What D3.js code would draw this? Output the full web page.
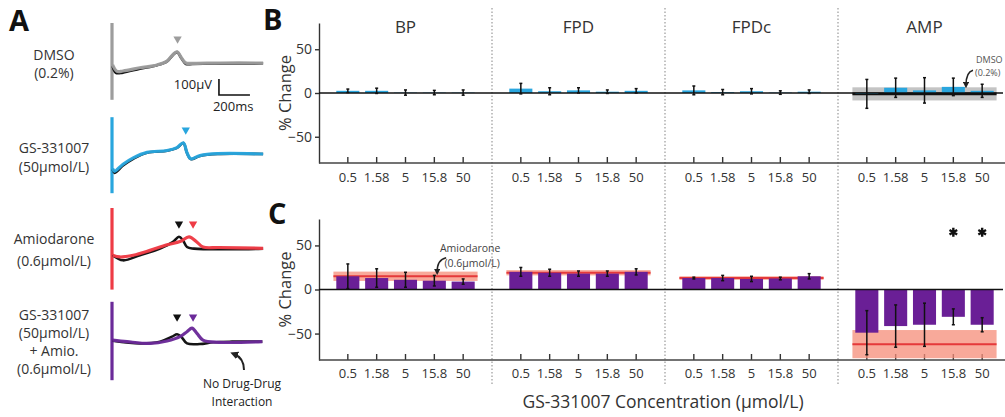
<!DOCTYPE html>
<html><head><meta charset="utf-8">
<script src="https://cdn.jsdelivr.net/npm/d3@7"></script>
<style>body{margin:0;background:#fff} text{font-family:"Open Sans",sans-serif}</style>
</head><body><svg id="c" width="1005" height="417"></svg>
<script>
// ---------- DATA ----------
const concentrations = ["0.5", "1.58", "5", "15.8", "50"];
const metrics = ["BP", "FPD", "FPDc", "AMP"];
const yTickValues = [50, 0, -50];

// Panel B: GS-331007 alone (% change)
const gsBP = [2.5, 2.5, 0.5, 0.5, 0.5];
const gsBPErr = [2, 3, 3, 2.5, 3];
const gsFPD = [5, 2, 3, 1.5, 2.5];
const gsFPDErr = [6, 4, 3, 2, 2.5];
const gsFPDc = [3, 1, 2, 0.5, 1.5];
const gsFPDcErr = [5, 3, 3, 2, 2];
const gsAMP = [-1, 6, 3, 7, 2.5];
const gsAMPErr = [16.5, 11, 14.5, 10, 7.5];
const dmsoAMP = [-1, 7.5]; // mean, sem

// Panel C: GS-331007 + amiodarone (% change)
const combBP = [15, 13, 11, 10, 9];
const combBPErr = [14, 10.5, 8.5, 6, 3];
const combFPD = [20, 19, 18, 18, 20];
const combFPDErr = [5, 4, 3, 3, 3.5];
const combFPDc = [13, 13, 12, 12.5, 15];
const combFPDcErr = [1, 3, 3, 1.5, 3];
const combAMP = [-49, -41.5, -40, -31, -40];
const combAMPErr = [25, 24, 24.5, 9, 8];
const significant = ["15.8", "50"];
// Amiodarone alone (mean, sem)
const amioBP = [15, 5.3];
const amioFPD = [19, 3];
const amioFPDc = [13, 2];
const amioAMP = [-62, 16];

// Panel A: field potential traces [time ms, µV]
const traceDMSOBlack = [[4,-20],[25,-62],[70,-60],[180,-36],[290,-14],[355,10],[395,52],[420,68],[450,26],[477,-6],[520,-6],[700,-3],[975,-2]];
const traceDMSO = [[4,-12],[32,-52],[71,-50],[180,-30],[290,-12],[355,12],[395,55],[420,70],[450,30],[477,0],[520,-2],[700,0],[975,0]];
const traceGSBlack = [[4,-95],[18,-118],[71,-72],[137,-30],[226,8],[355,20],[419,38],[460,68],[484,6],[508,-32],[567,-12],[680,0],[975,0]];
const traceGS = [[4,-90],[16,-108],[71,-64],[137,-24],[226,10],[355,22],[419,40],[460,70],[484,8],[508,-30],[567,-10],[680,2],[975,0]];
const traceAmioBlack = [[4,-45],[71,-77],[180,-45],[310,-4],[394,38],[432,70],[458,48],[484,6],[529,-4],[774,-8],[975,-4]];
const traceAmio = [[4,-45],[51,-56],[137,-45],[245,-15],[355,20],[439,40],[497,70],[547,38],[587,6],[690,3],[975,-2]];
const traceCombBlack = [[4,2],[180,-15],[310,-4],[387,27],[420,42],[447,27],[484,-15],[567,-19],[653,-8],[774,-4],[970,-4]];
const traceComb = [[4,6],[97,-4],[245,-15],[355,0],[439,27],[484,58],[516,80],[548,48],[587,6],[690,-8],[970,-4]];
const spikeDMSO = [250, -230];
const spikeGS = [230, -245];
const spikeAmio = [250, -260];
const spikeComb = [245, -245];
const peakDMSO = [423];
const peakGS = [476];
const peakAmio = [432, 523];
const peakComb = [420, 523];
const scaleBarTime = [690, 890];
const scaleBarVolt = [-100, -200];

// ---------- DRAWING ----------
const svg = d3.select("#c");
const FONT = '"Open Sans", sans-serif';
function txt(x, y, s, o = {}) {
  return svg.append("text").attr("x", x).attr("y", y).text(s)
    .attr("font-size", o.size || 13).attr("text-anchor", o.anchor || "start")
    .attr("font-weight", o.weight || 400).style("fill", o.fill || "#333")
    .attr("transform", o.transform || null);
}
const defs = svg.append("defs");
defs.append("marker").attr("id", "ah").attr("viewBox", "0 0 10 10").attr("refX", 5).attr("refY", 5)
  .attr("markerWidth", 4).attr("markerHeight", 4).attr("orient", "auto")
  .append("path").attr("d", "M0,0L10,5L0,10z").attr("fill", "#222");

// Panel letters
txt(9, 31, "A", {size: 29, weight: 700, fill: "#111"});
txt(263, 30, "B", {size: 29, weight: 700, fill: "#111"});
txt(268, 224, "C", {size: 29, weight: 700, fill: "#111"});

// ---------- Panel A ----------
const xT = d3.scaleLinear().domain([0, 1000]).range([112, 267]);
const colGrey = "#9d9d9d", colBlue = "#29a6de", colRed = "#ee3b45", colPurple = "#6b2a99";
const rows = [
  {base: 63, black: traceDMSOBlack, trace: traceDMSO, spike: spikeDMSO, peaks: peakDMSO, colors: [colGrey], color: colGrey},
  {base: 154, black: traceGSBlack, trace: traceGS, spike: spikeGS, peaks: peakGS, colors: [colBlue], color: colBlue},
  {base: 248, black: traceAmioBlack, trace: traceAmio, spike: spikeAmio, peaks: peakAmio, colors: ["#111", colRed], color: colRed},
  {base: 341, black: traceCombBlack, trace: traceComb, spike: spikeComb, peaks: peakComb, colors: ["#111", colPurple], color: colPurple}
];
rows.forEach(r => {
  const yV = d3.scaleLinear().domain([0, 100]).range([r.base, r.base - 16]);
  const line = d3.line().x(d => xT(d[0])).y(d => yV(d[1])).curve(d3.curveCatmullRom.alpha(0.5));
  svg.append("line").attr("x1", xT(0)).attr("x2", xT(0)).attr("y1", yV(r.spike[0])).attr("y2", yV(r.spike[1]))
    .attr("stroke", r.color).attr("stroke-width", 3.2);
  svg.append("path").attr("d", line(r.black)).attr("fill", "none").attr("stroke", "#151515").attr("stroke-width", 2.6);
  svg.append("path").attr("d", line(r.trace)).attr("fill", "none").attr("stroke", r.color).attr("stroke-width", 3.2).attr("stroke-opacity", 0.97);
  r.peaks.forEach((t, i) => {
    svg.append("path").attr("d", d3.symbol(d3.symbolTriangle, 30)())
      .attr("transform", `translate(${xT(t)},${yV(150)}) rotate(180)`).attr("fill", r.colors[i]);
  });
  if (r.base === 63) {
    svg.append("path").attr("d", `M${xT(scaleBarTime[0])},${yV(scaleBarVolt[0])}V${yV(scaleBarVolt[1])}H${xT(scaleBarTime[1])}`)
      .attr("fill", "none").attr("stroke", "#111").attr("stroke-width", 1.6);
    txt(xT(scaleBarTime[0]) - 7, yV(-165), "100µV", {size: 13, anchor: "end", fill: "#222"});
    txt(xT(scaleBarTime[0]) - 6, yV(-300), "200ms", {size: 13, fill: "#222"});
  }
});
const labA = [["DMSO", 60], ["(0.2%)", 78], ["GS-331007", 153], ["(50µmol/L)", 172], ["Amiodarone", 244], ["(0.6µmol/L)", 266],
  ["GS-331007", 320], ["(50µmol/L)", 338], ["+ Amio.", 356], ["(0.6µmol/L)", 374]];
labA.forEach(l => txt(54, l[1], l[0], {size: 14, anchor: "middle"}));
txt(242, 388, "No Drug-Drug", {size: 12, anchor: "middle", fill: "#222"});
txt(242, 406, "Interaction", {size: 12, anchor: "middle", fill: "#222"});
svg.append("path").attr("d", "M244,370 Q244,358 234,354").attr("fill", "none").attr("stroke", "#222")
  .attr("stroke-width", 2).attr("marker-end", "url(#ah)");

// ---------- Panels B & C ----------
const panelX = d3.scaleBand().domain(metrics).range([319, 319 + 4 * 173]);
const xIn = m => d3.scaleBand().domain(concentrations).range([panelX(m), panelX(m) + panelX.bandwidth()])
  .paddingInner(0.2).paddingOuter(0.6);
const yB = d3.scaleLinear().domain([-80, 80]).range([163, 23]);
const yC = d3.scaleLinear().domain([-80, 80]).range([360, 219]);

// dotted separators
metrics.slice(1).forEach(m => {
  svg.append("line").attr("x1", panelX(m)).attr("x2", panelX(m)).attr("y1", 8).attr("y2", 386)
    .attr("stroke", "#9a9a9a").attr("stroke-width", 1.2).attr("stroke-dasharray", "1.5,2");
});
// titles
metrics.forEach(m => txt(panelX(m) + panelX.bandwidth() / 2, 33, m, {size: 17, anchor: "middle"}));

const gsVals = {BP: [gsBP, gsBPErr], FPD: [gsFPD, gsFPDErr], FPDc: [gsFPDc, gsFPDcErr], AMP: [gsAMP, gsAMPErr]};
const combVals = {BP: [combBP, combBPErr], FPD: [combFPD, combFPDErr], FPDc: [combFPDc, combFPDcErr], AMP: [combAMP, combAMPErr]};
const amioVals = {BP: amioBP, FPD: amioFPD, FPDc: amioFPDc, AMP: amioAMP};

function drawPanel(y, vals, color, band, bandColor, lineColor, tickPad) {
  const g = svg.append("g");
  const ya = g.append("g").attr("transform", `translate(319,0)`)
    .call(d3.axisLeft(y).tickValues(yTickValues).tickSize(4).tickSizeOuter(0).tickPadding(3));
  ya.selectAll("text").attr("font-size", 14).attr("font-family", FONT).style("fill", "#333");
  ya.selectAll("line,path").attr("stroke", "#333").attr("stroke-width", 1.4);
  metrics.forEach(m => {
    const xs = xIn(m);
    const ax = g.append("g").attr("transform", `translate(0,${y(-80)})`)
      .call(d3.axisBottom(xs).tickSize(-6).tickPadding(tickPad));
    ax.select(".domain").remove();
    ax.selectAll("text").attr("font-size", 13).attr("font-family", FONT).style("fill", "#333");
    ax.selectAll("line").attr("stroke", "#333").attr("stroke-width", 1.4);
  });
  g.append("line").attr("x1", 319).attr("x2", 1005).attr("y1", y(-80)).attr("y2", y(-80))
    .attr("stroke", "#444").attr("stroke-width", 1.6);
  metrics.forEach(m => {
    const xs = xIn(m);
    const c0 = xs(concentrations[0]) + xs.bandwidth() / 2 - xs.step() / 2;
    const c1 = xs(concentrations[4]) + xs.bandwidth() / 2 + xs.step() / 2;
    const b = band(m);
    if (b) {
      g.append("rect").attr("x", c0).attr("width", c1 - c0).attr("y", y(b[0] + b[1])).attr("height", y(b[0] - b[1]) - y(b[0] + b[1]))
        .attr("fill", bandColor);
      g.append("line").attr("x1", c0).attr("x2", c1).attr("y1", y(b[0])).attr("y2", y(b[0]))
        .attr("stroke", lineColor).attr("stroke-width", lineColor === "#111" ? 2.6 : 2);
    }
    const [v] = vals[m];
    concentrations.forEach((c, i) => {
      g.append("rect").attr("x", xs(c)).attr("width", xs.bandwidth())
        .attr("y", y(Math.max(0, v[i]))).attr("height", Math.abs(y(v[i]) - y(0))).attr("fill", color);
    });
  });
  g.append("line").attr("x1", 319).attr("x2", 1003).attr("y1", y(0)).attr("y2", y(0))
    .attr("stroke", "#111").attr("stroke-width", 1.5);
  metrics.forEach(m => {
    const xs = xIn(m);
    const [v, e] = vals[m];
    concentrations.forEach((c, i) => {
      const cx = xs(c) + xs.bandwidth() / 2;
      g.append("line").attr("x1", cx).attr("x2", cx).attr("y1", y(v[i] + e[i])).attr("y2", y(v[i] - e[i]))
        .attr("stroke", "#111").attr("stroke-width", 1.5);
      [v[i] + e[i], v[i] - e[i]].forEach(ev => g.append("line").attr("x1", cx - 1.5).attr("x2", cx + 1.5)
        .attr("y1", y(ev)).attr("y2", y(ev)).attr("stroke", "#111").attr("stroke-width", 1.5));
    });
  });
  return g;
}
drawPanel(yB, gsVals, "#2aa6de", m => m === "AMP" ? dmsoAMP : null, "#c4c4c4", "#111", 9.5);
drawPanel(yC, combVals, "#6a1f96", m => amioVals[m], "rgba(245,140,120,0.75)", "#e5393a", 8.8);

// y-axis titles
txt(0, 0, "% Change", {size: 16.5, anchor: "middle", transform: `translate(291,${yB(0)}) rotate(-90)`});
txt(0, 0, "% Change", {size: 16.5, anchor: "middle", transform: `translate(291,${yC(0)}) rotate(-90)`});

// significance stars
const xAMP = xIn("AMP");
significant.forEach(c => {
  svg.append("path").attr("d", d3.symbol(d3.symbolAsterisk, 55)())
    .attr("transform", `translate(${xAMP(c) + xAMP.bandwidth() / 2},${yC(65)})`)
    .attr("stroke", "#111").attr("stroke-width", 2.4);
});

// annotations
const xBP = xIn("BP");
const ax50 = xBP("50") + xBP.bandwidth() / 2;
txt(ax50 + 7, yC(42), "Amiodarone", {size: 10.5, anchor: "middle", fill: "#444"});
txt(ax50 + 9, yC(26), "(0.6µmol/L)", {size: 10.5, anchor: "middle", fill: "#444"});
svg.append("path").attr("d", `M${ax50 - 17},${yC(36)} Q${ax50 - 26},${yC(34)} ${ax50 - 26},${yC(20)}`)
  .attr("fill", "none").attr("stroke", "#222").attr("stroke-width", 1.6).attr("marker-end", "url(#ah)");
txt(976, yB(34), "DMSO", {size: 9, fill: "#555"});
txt(975, yB(19), "(0.2%)", {size: 9, fill: "#555"});
svg.append("path").attr("d", `M973,${yB(26)} Q966,${yB(24)} 966,${yB(9)}`)
  .attr("fill", "none").attr("stroke", "#222").attr("stroke-width", 1.6).attr("marker-end", "url(#ah)");

// x-axis title
txt(663, 408, "GS-331007 Concentration (µmol/L)", {size: 17.5, anchor: "middle"});
</script></body></html>
